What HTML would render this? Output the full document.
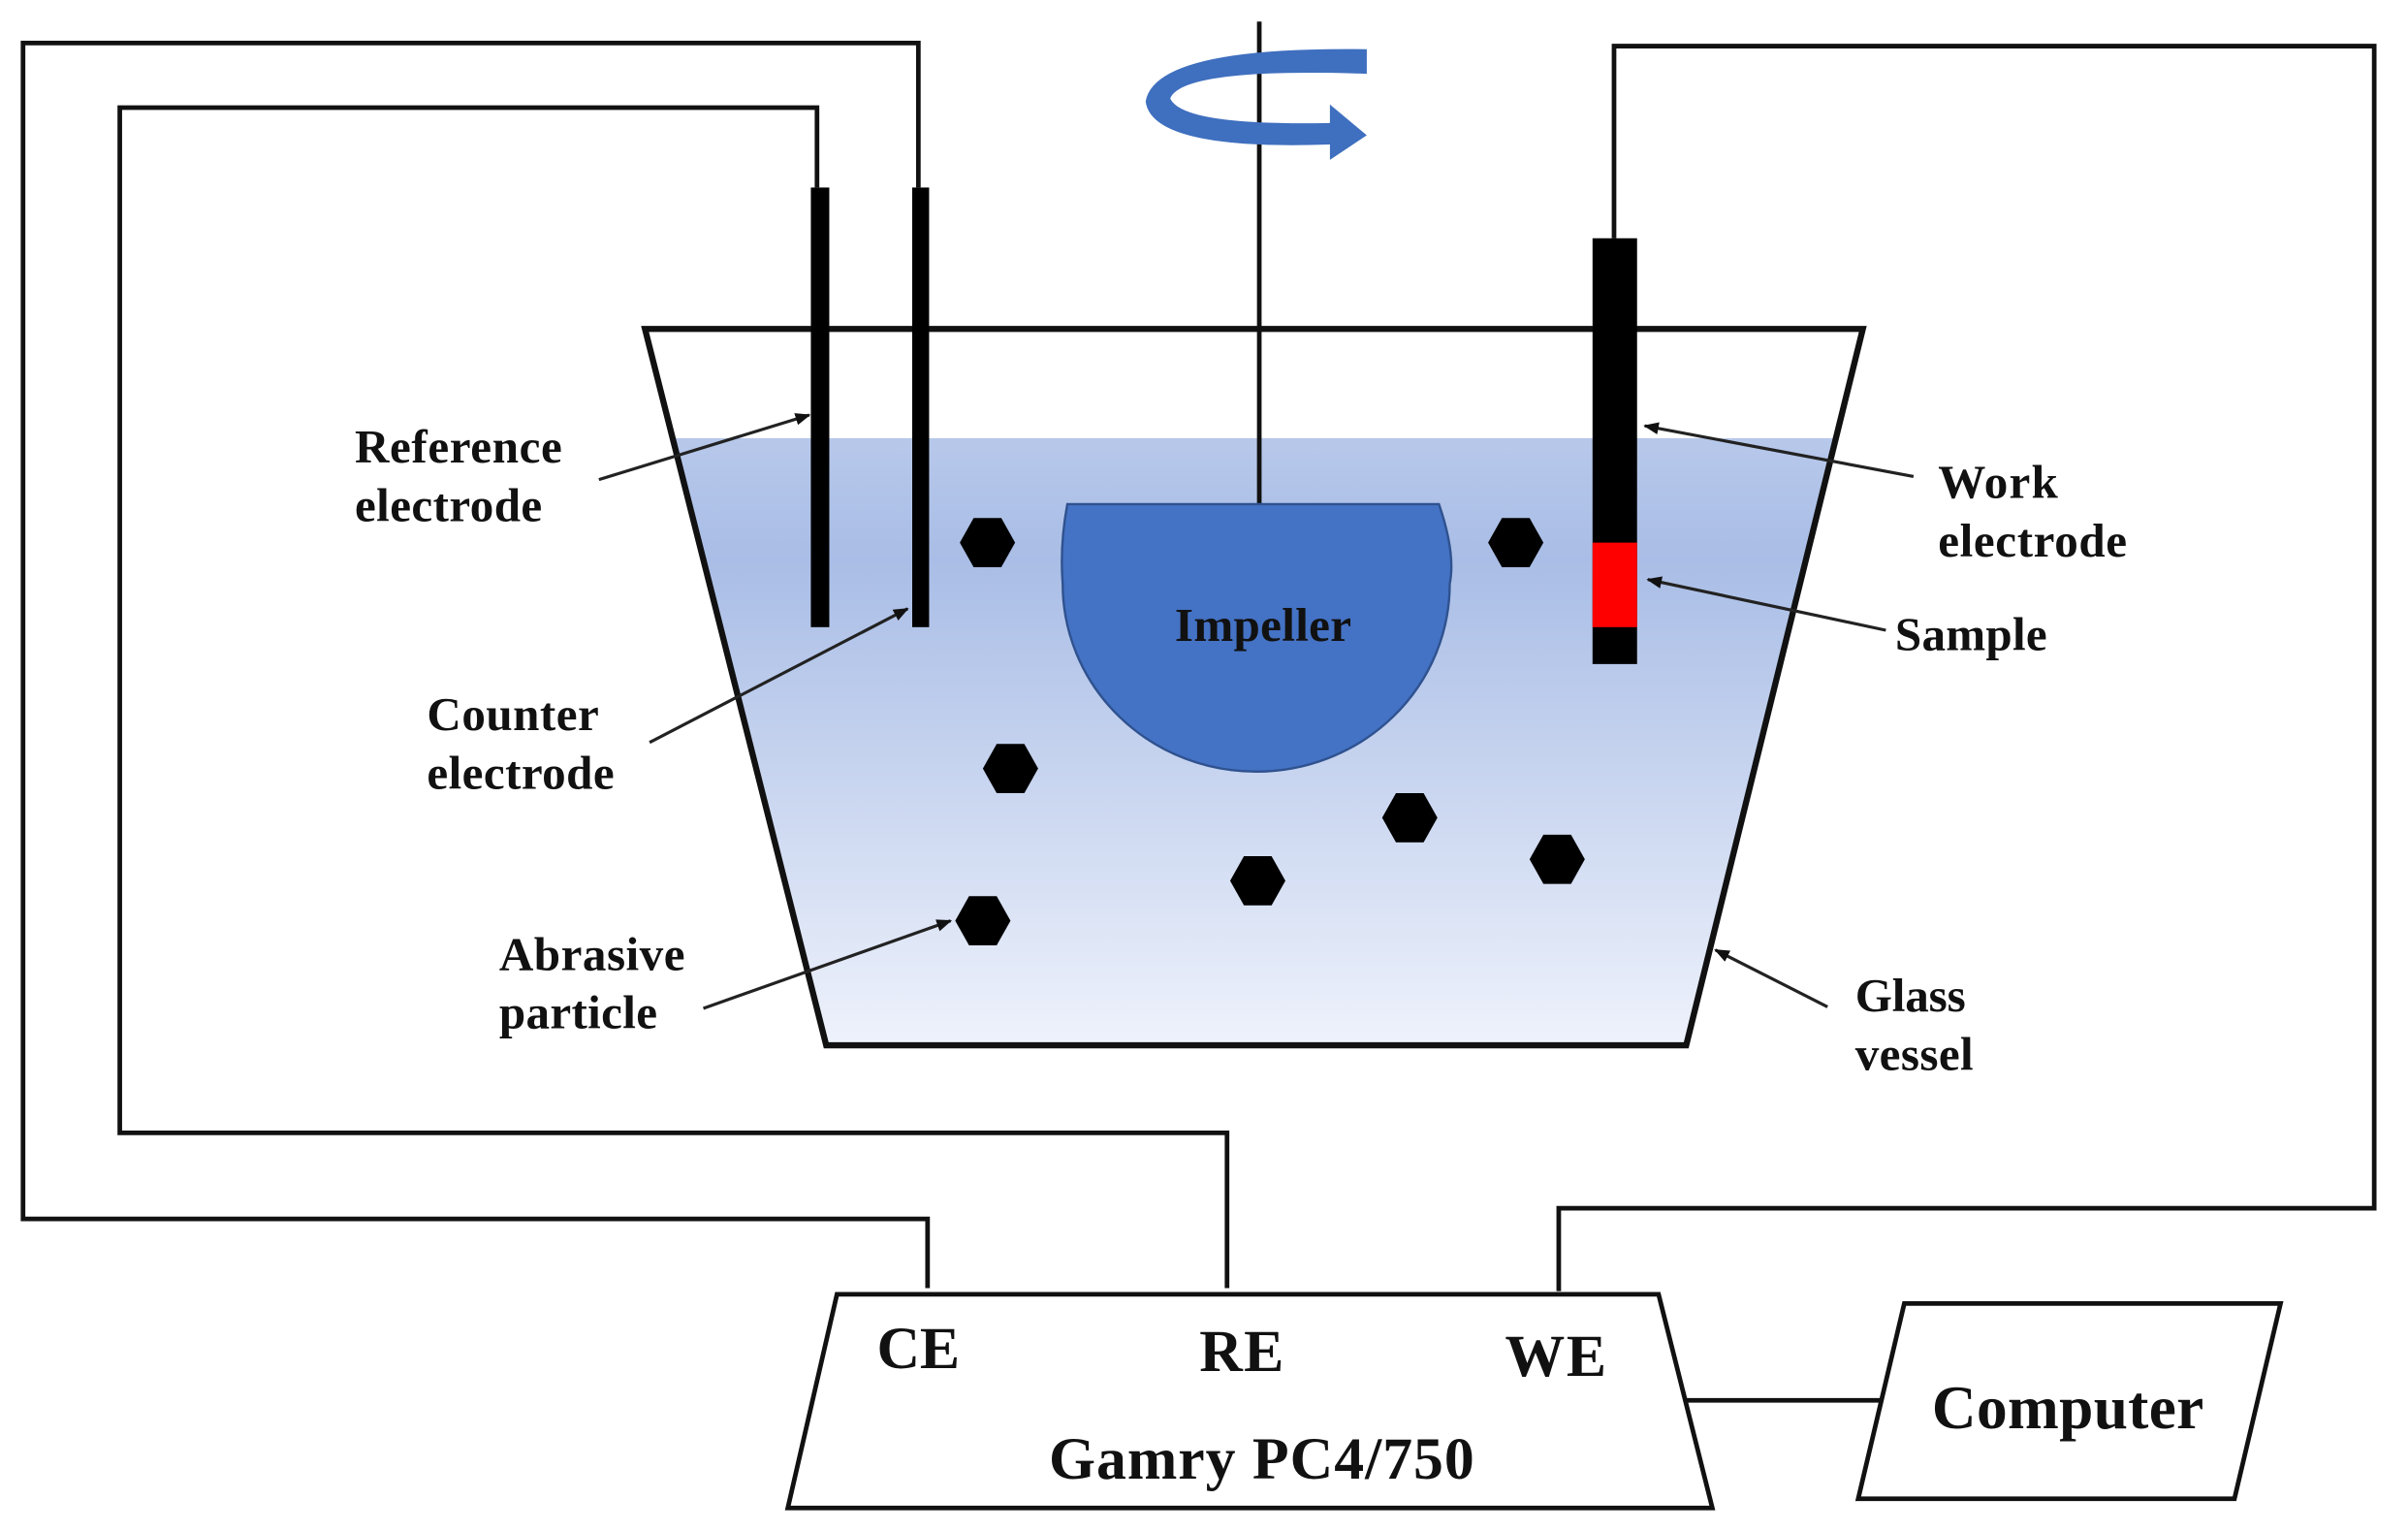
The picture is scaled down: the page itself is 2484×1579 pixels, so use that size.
<!DOCTYPE html>
<html><head><meta charset="utf-8"><style>html,body{margin:0;padding:0;background:#fff}svg{display:block}</style></head>
<body>
<svg width="2484" height="1579" viewBox="0 0 1568 996" preserveAspectRatio="none" xmlns="http://www.w3.org/2000/svg">
<defs>
<linearGradient id="liq" x1="0" y1="0" x2="0" y2="1">
<stop offset="0" stop-color="#b7c8ea"/><stop offset="0.2" stop-color="#a9bde6"/><stop offset="1" stop-color="#eef2fb"/>
</linearGradient>
<marker id="ah" markerWidth="10" markerHeight="8" refX="9" refY="4" orient="auto" markerUnits="userSpaceOnUse"><path d="M0,0 L10,4 L0,8 Z" fill="#111"/></marker>
</defs>
<g fill="none" stroke="#111" stroke-width="3">
<polyline points="604,838 604,793 15,793 15,28 598,28 598,122"/>
<polyline points="799,838 799,737 78,737 78,70 532,70 532,122"/>
<polyline points="1015,840 1015,786 1546,786 1546,30 1051,30 1051,155"/>
<line x1="1098" y1="911" x2="1225" y2="911"/>
</g>
<polygon points="438,285 1195,285 1098,680 538,680" fill="url(#liq)"/>
<polygon points="420,214 1213,214 1098,680 538,680" fill="none" stroke="#111" stroke-width="4"/>
<rect x="528" y="122" width="12" height="286" fill="#000"/>
<rect x="594" y="122" width="11" height="286" fill="#000"/>
<rect x="1037" y="155" width="29" height="277" fill="#000"/>
<rect x="1037" y="353" width="29" height="55" fill="#ff0000"/>
<line x1="820" y1="14" x2="820" y2="328" stroke="#111" stroke-width="3"/>
<path d="M695,328 L937,328 Q948,360 944,380 A126,122 0 0 1 692,380 Q690,355 695,328 Z" fill="#4472c4" stroke="#2f528f" stroke-width="1.5"/>
<path d="M890,32 L890,48 Q770,44 762,64 Q770,82 866,80 L866,68 L890,88 L866,104 L866,94 Q750,98 746,66 Q752,30 890,32 Z" fill="#3f6fbf"/>
<g fill="#000">
<polygon points="625,353 634,337 652,337 661,353 652,369 634,369"/>
<polygon points="969,353 978,337 996,337 1005,353 996,369 978,369"/>
<polygon points="640,500 649,484 667,484 676,500 667,516 649,516"/>
<polygon points="900,532 909,516 927,516 936,532 927,548 909,548"/>
<polygon points="996,559 1005,543 1023,543 1032,559 1023,575 1005,575"/>
<polygon points="801,573 810,557 828,557 837,573 828,589 810,589"/>
<polygon points="622,599 631,583 649,583 658,599 649,615 631,615"/>
</g>
<g stroke="#222" stroke-width="2" marker-end="url(#ah)">
<line x1="390" y1="312" x2="527" y2="270"/>
<line x1="423" y1="483" x2="591" y2="396"/>
<line x1="458" y1="656" x2="619" y2="599"/>
<line x1="1246" y1="310" x2="1071" y2="277"/>
<line x1="1228" y1="410" x2="1073" y2="377"/>
<line x1="1190" y1="655" x2="1117" y2="618"/>
</g>
<polygon points="545,842 1080,842 1115,981 513,981" fill="#fff" stroke="#111" stroke-width="3"/>
<polygon points="1240,848 1485,848 1455,975 1210,975" fill="#fff" stroke="#111" stroke-width="3"/>
<g font-family="Liberation Serif, serif" font-weight="bold" fill="#111" font-size="31">
<text x="231" y="301" textLength="135">Reference</text><text x="231" y="339" textLength="122">electrode</text>
<text x="278" y="475" textLength="112">Counter</text><text x="278" y="513" textLength="122">electrode</text>
<text x="325" y="631" textLength="121">Abrasive</text><text x="325" y="669" textLength="103">particle</text>
<text x="1262" y="324" textLength="78">Work</text><text x="1262" y="362" textLength="123">electrode</text>
<text x="1234" y="423" textLength="99">Sample</text>
<text x="1208" y="658" textLength="72">Glass</text><text x="1208" y="696" textLength="77">vessel</text>
<text x="765" y="417" textLength="115">Impeller</text>
<text x="571" y="890" font-size="39" textLength="54">CE</text>
<text x="781" y="892" font-size="39" textLength="55">RE</text>
<text x="980" y="895" font-size="39" textLength="66">WE</text>
<text x="683" y="962" font-size="39" textLength="277">Gamry PC4/750</text>
<text x="1258" y="929" font-size="40" textLength="177">Computer</text>
</g>
</svg>
</body></html>
